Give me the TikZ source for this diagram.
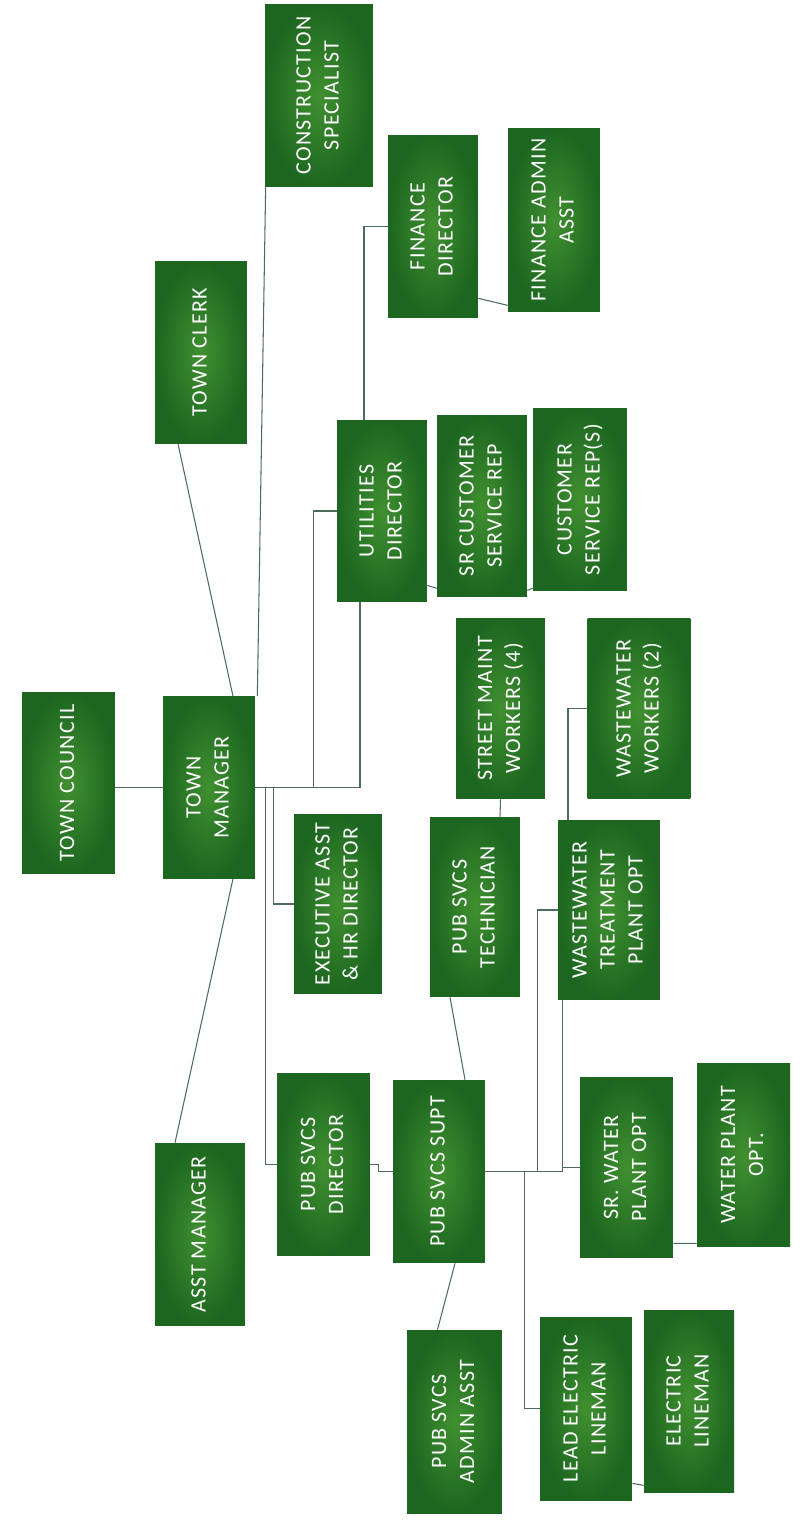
\documentclass[tikz,border=0pt]{standalone}
\usepackage{fontspec}
\setmainfont{Carlito}[LetterSpace=6]
\usepackage{graphicx}
\usetikzlibrary{calc}

\definecolor{boxdark}{RGB}{28,102,32}
\definecolor{boxlight}{RGB}{64,144,48}
\definecolor{wirecol}{RGB}{78,108,92}

% 縦書きラベル
\newcommand{\vlabel}[1]{\rotatebox{90}{\fontsize{12.5}{15.9}\selectfont\begin{tabular}{@{}c@{}}#1\end{tabular}}}

\tikzset{
  post/.style={inner color=boxlight, outer color=boxdark, text=white,
    minimum width=1.84cm, minimum height=3.64cm, inner sep=0pt},
  link/.style={draw=wirecol, line width=0.6pt}
}

\begin{document}
\begin{tikzpicture}[x=0.02cm, y=-0.02cm]
   \fill[white] (0,0) rectangle (799,1521);
   \useasboundingbox (0,0) rectangle (799,1521);

   % 箱
   \node [post, minimum width=1.86cm] (council) at (68.5,783) {\vlabel{TOWN COUNCIL}};
   \node [post] (manager) at (209,787.5) {\vlabel{TOWN\\MANAGER}};
   \node [post] (clerk) at (201,352.5) {\vlabel{TOWN CLERK}};
   \node [post, minimum width=2.16cm, minimum height=3.66cm] (constr) at (319,95.5) {\vlabel{CONSTRUCTION\\SPECIALIST}};
   \node [post, minimum width=1.80cm, minimum height=3.66cm] (findir) at (433,226.5) {\vlabel{FINANCE\\DIRECTOR}};
   \node [post, minimum height=3.68cm] (finasst) at (554,220) {\vlabel{FINANCE ADMIN\\ASST}};
   \node [post, minimum width=1.80cm] (utildir) at (382,511) {\vlabel{UTILITIES\\DIRECTOR}};
   \node [post, minimum width=1.80cm] (srcsr) at (482,506) {\vlabel{SR CUSTOMER\\SERVICE REP}};
   \node [post, minimum width=1.88cm, minimum height=3.66cm] (csr) at (580,499.5) {\vlabel{CUSTOMER\\SERVICE REP(S)}};
   \node [post, minimum width=1.78cm, minimum height=3.62cm] (street) at (500.5,708.5) {\vlabel{STREET MAINT\\WORKERS (4)}};
   \node [post, minimum width=2.06cm, minimum height=3.62cm] (wwork) at (639,708.5) {\vlabel{WASTEWATER\\WORKERS (2)}};
   \node [post, minimum width=1.76cm, minimum height=3.58cm] (exec) at (338,904) {\vlabel{EXECUTIVE ASST\\\& HR DIRECTOR}};
   \node [post, minimum width=1.80cm, minimum height=3.60cm] (tech) at (475,907) {\vlabel{PUB SVCS\\TECHNICIAN}};
   \node [post, minimum width=2.04cm, minimum height=3.60cm] (wwtp) at (609,910) {\vlabel{WASTEWATER\\TREATMENT\\PLANT OPT}};
   \node [post, minimum width=1.80cm, minimum height=3.66cm] (asstmgr) at (200,1234.5) {\vlabel{ASST MANAGER}};
   \node [post, minimum width=1.86cm, minimum height=3.66cm] (psdir) at (323.5,1164.5) {\vlabel{PUB SVCS\\DIRECTOR}};
   \node [post, minimum height=3.66cm] (supt) at (439,1171.5) {\vlabel{PUB SVCS SUPT}};
   \node [post, minimum width=1.86cm, minimum height=3.62cm] (srwater) at (626.5,1167.5) {\vlabel{SR. WATER\\PLANT OPT}};
   \node [post, minimum width=1.86cm, minimum height=3.68cm] (water) at (743.5,1155) {\vlabel{WATER PLANT\\OPT.}};
   \node [post, minimum width=1.90cm, minimum height=3.66cm] (psadmin) at (454.5,1421.5) {\vlabel{PUB SVCS\\ADMIN ASST}};
   \node [post, minimum height=3.66cm] (lead) at (586,1408.5) {\vlabel{LEAD ELECTRIC\\LINEMAN}};
   \node [post, minimum width=1.80cm, minimum height=3.64cm] (electric) at (689,1401) {\vlabel{ELECTRIC\\LINEMAN}};

   % 接続線（町長から）
   \draw [link] (council.east |- manager.west) -- (manager.west);
   \draw [link] ($(manager.north)+(24,0)$) -- ($(clerk.south)+(-23,0)$);
   \draw [link] ($(manager.south)+(24,0)$) -- ($(asstmgr.north)+(-25,0)$);
   \draw [link] ($(manager.north east)+(2,0)$) -- ($(constr.south west)+(1,0)$);
   \draw [link] (manager.east) -| ($(utildir.south)+(-22,0)$);
   \draw [link] ($(manager.east)+(58,0)$) |- (utildir.west);
   \draw [link] ($(manager.east)+(18,0)$) |- (exec.west);
   \draw [link] ($(manager.east)+(10,0)$) |- (psdir.west);

   % 公益事業
   \draw [link] ($(utildir.north)+(-18,0)$) |- (findir.west);
   \draw [link] ($(findir.south east)+(0,-20)$) -- ($(finasst.south west)+(0,-7)$);
   \draw [link] ($(utildir.south east)+(0,-17)$) -- ($(srcsr.south west)+(0,-9)$);
   \draw [link] ($(srcsr.south east)+(0,-7)$) -- ($(csr.south west)+(0,-3)$);

   % 公共サービス
   \draw [link] (psdir.east) -- ++(8,0) |- (supt.west);
   \draw [link] ($(supt.north)+(26,0)$) -- ($(tech.south)+(-25,0)$);
   \draw [link] ($(tech.north)+(25,0)$) -- (street.south);
   \draw [link] ($(supt.south)+(16,0)$) -- ($(psadmin.north)+(-17,0)$);
   \coordinate (jw) at ($(supt.east)+(77,0)$);
   \draw [link] (supt.east) -- (jw) |- (srwater.west);
   \draw [link] (jw) -- (jw |- wwtp.south);
   \draw [link] ($(supt.east)+(52,0)$) |- (wwtp.west);
   \draw [link] ($(supt.east)+(39,0)$) |- (lead.west);
   \draw [link] ($(wwtp.north)+(-41,0)$) |- (wwork.west);
   \draw [link] ($(srwater.south east)+(0,-15)$) -- ($(water.south west)+(0,-4)$);
   \draw [link] ($(lead.south east)+(0,-17)$) -- ($(electric.south west)+(0,-7)$);

\end{tikzpicture}
\end{document}
